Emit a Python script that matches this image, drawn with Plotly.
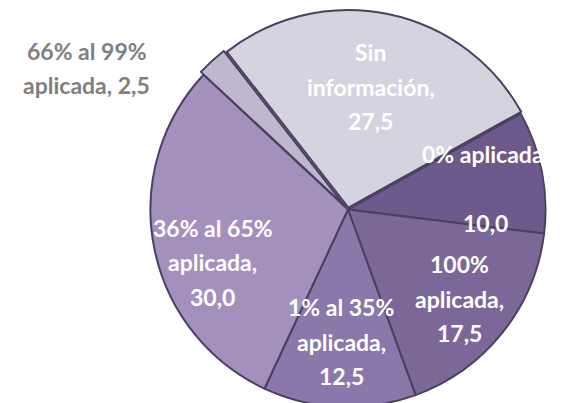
import math
import plotly.graph_objects as go

categories = ["Sin información", "0% aplicada", "100% aplicada",
              "1% al 35% aplicada", "36% al 65% aplicada", "66% al 99% aplicada"]
values = [27.5, 10.0, 17.5, 12.5, 30.0, 2.5]
label_heads = [["Sin", "información,"], ["0% aplicada,", ""], ["100%", "aplicada,"],
               ["1% al 35%", "aplicada,"], ["36% al 65%", "aplicada,"], ["66% al 99%"]]
colors = ["#d6d3e0", "#6b5a8b", "#7c6898", "#8a78aa", "#a490bd", "#bfb7d0"]

# styling / label placement (not data)
W, H = 569, 403
ROT = -38
CX, CY, R = 340, 201.5, 201.5
label_frac = [0.62, 0.69, 0.71, 0.656, 0.72, 1.474]
label_angle_off = [-1, 2.3, 0, 0.5, -10.4, -19]
label_color = ["white"] * 5 + ["#7f7f7f"]
LINE_H = 34.5
FONT = "Lato"
FSIZE = 23


def fmt(v):
    return f"{v:.1f}".replace(".", ",")


fig = go.Figure(go.Pie(
    labels=categories,
    values=values,
    textinfo="none",
    marker=dict(colors=colors, line=dict(color="#4b4060", width=2)),
    sort=False,
    direction="clockwise",
    rotation=ROT,
    pull=[0.01, 0.0, 0.0, 0.0, 0.0, 0.02],
    domain=dict(x=[(CX - R) / W, (CX + R) / W], y=[0.0, 1.0]),
    hoverinfo="label+value",
))

total = sum(values)
start = ROT
for i, (head, v) in enumerate(zip(label_heads, values)):
    span = 360 * v / total
    mid = start + span / 2 + label_angle_off[i]
    start += span
    th = math.radians(mid)
    px = CX + label_frac[i] * R * math.sin(th)
    py = CY - label_frac[i] * R * math.cos(th)
    if len(head) == 1:
        all_lines = [head[0], "aplicada, " + fmt(v)]
    else:
        all_lines = head + [fmt(v)]
    n = len(all_lines)
    for j, t in enumerate(all_lines):
        if not t:
            continue
        ly = py - (n - 1) / 2 * LINE_H + j * LINE_H
        fig.add_annotation(
            x=px / W, y=1 - ly / H, xref="paper", yref="paper",
            text=t, showarrow=False, xanchor="center", yanchor="middle",
            font=dict(family=FONT, size=FSIZE, color=label_color[i], weight="bold"),
        )

fig.update_layout(
    width=W, height=H,
    margin=dict(l=0, r=0, t=0, b=0),
    paper_bgcolor="white",
    plot_bgcolor="white",
    showlegend=False,
    font=dict(family=FONT),
)

fig.write_html("out.html")
